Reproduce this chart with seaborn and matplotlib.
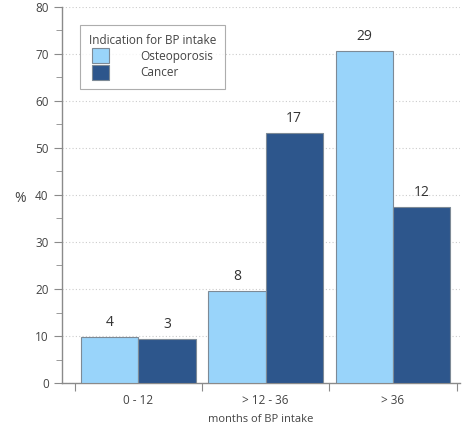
import numpy as np
import pandas as pd
import seaborn as sns
import matplotlib.pyplot as plt
from matplotlib.ticker import MultipleLocator

# data
months = ['0 - 12', '> 12 - 36', '> 36']
osteo_pct = [9.8, 19.5, 70.7]
cancer_pct = [9.4, 53.1, 37.5]
osteo_n = [4, 8, 29]
cancer_n = [3, 17, 12]
groups = ['Osteoporosis', 'Cancer']

df = pd.DataFrame({
    'months': months * 2,
    'pct': osteo_pct + cancer_pct,
    'n': osteo_n + cancer_n,
    'group': [groups[0]] * 3 + [groups[1]] * 3,
})

sns.set_style('white')
plt.rcParams['font.family'] = ['Open Sans', 'DejaVu Sans']

fig = plt.figure(figsize=(4.65, 4.28), dpi=100)
ax = fig.add_axes([0.133, 0.105, 0.857, 0.879])

pal = {'Osteoporosis': '#99d4fa', 'Cancer': '#2d568c'}
sns.barplot(data=df, x='months', y='pct', hue='group', palette=pal,
            width=0.9, gap=0, saturation=1, edgecolor='#7d8a96',
            linewidth=0.8, ax=ax, zorder=3)

# count labels on top of the bars
for cont, g in zip(ax.containers, groups):
    ax.bar_label(cont, labels=[str(v) for v in df[df.group == g]['n']],
                 padding=5, fontsize=10, color='#333333')

ax.set_ylim(0, 80)
ax.set_xlim(-0.6, 2.53)
ax.yaxis.set_major_locator(MultipleLocator(10))
ax.yaxis.set_minor_locator(MultipleLocator(5))
ax.grid(axis='y', which='major', linestyle=(0, (1, 2)), color='#cccccc', linewidth=0.8, zorder=0)

for s in ['top', 'right']:
    ax.spines[s].set_visible(False)
for s in ['left', 'bottom']:
    ax.spines[s].set_color('#8a8a8a')
    ax.spines[s].set_linewidth(1)

ax.tick_params(axis='y', which='major', length=6, color='#8a8a8a', labelsize=8.5, labelcolor='#444444', left=True)
ax.tick_params(axis='y', which='minor', length=4, color='#8a8a8a', left=True)
# x ticks sit between the categories
ax.set_xticks([-0.5, 0.5, 1.5, 2.5], minor=False)
ax.set_xticklabels([])
ax.set_xticks([0, 1, 2], minor=True)
ax.set_xticklabels(months, minor=True)
ax.tick_params(axis='x', which='major', length=6, color='#8a8a8a', bottom=True, direction='out')
ax.tick_params(axis='x', which='minor', length=0, labelsize=8.5, labelcolor='#444444', pad=8)

ax.set_xlabel('months of BP intake', fontsize=8, color='#444444', labelpad=5)
ax.set_ylabel('%', rotation=0, fontsize=10, color='#444444', va='center')
ax.yaxis.set_label_coords(-0.105, 0.49)

leg = ax.legend(title='Indication for BP intake', loc='upper left',
                bbox_to_anchor=(0.045, 0.952), fontsize=8.5, title_fontsize=8.5,
                frameon=True, fancybox=False, edgecolor='#999999',
                handlelength=1.5, handleheight=1.6, handletextpad=2.6,
                labelspacing=0.12, borderpad=0.75, borderaxespad=0)
leg.get_frame().set_linewidth(0.8)
for t in leg.get_texts():
    t.set_color('#444444')
leg.get_title().set_color('#444444')

fig.savefig('out.png', dpi=100)
